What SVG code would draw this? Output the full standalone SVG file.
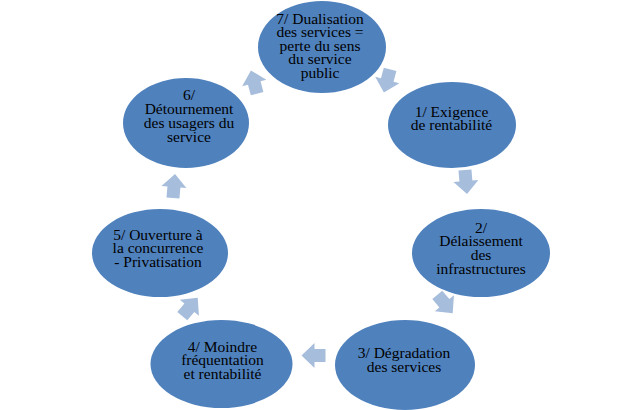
<svg xmlns="http://www.w3.org/2000/svg" xmlns:xlink="http://www.w3.org/1999/xlink" width="640" height="410" viewBox="0 0 640 410">
<style>
.node{fill:#4F81BD;}
.lbl{font-family:"Liberation Serif","DejaVu Serif",serif;font-size:15.5px;fill:#000;text-anchor:middle;}
.arr{fill:#A7BDDC;}
</style>
<defs>
<path id="arrow" d="M-12,-6.5 L-1,-6.5 L-1,-12.5 L12,0 L-1,12.5 L-1,6.5 L-12,6.5 Z"/>
</defs>
<rect width="640" height="410" fill="#fff"/>
<g id="connectors">
<use xlink:href="#arrow" class="arr" transform="translate(387,81) rotate(105)"/>
<use xlink:href="#arrow" class="arr" transform="translate(466,182) rotate(85)"/>
<use xlink:href="#arrow" class="arr" transform="translate(445,304) rotate(50)"/>
<use xlink:href="#arrow" class="arr" transform="translate(313.5,355.5) rotate(180)"/>
<use xlink:href="#arrow" class="arr" transform="translate(190,307) rotate(-50)"/>
<use xlink:href="#arrow" class="arr" transform="translate(174,186) rotate(-85)"/>
<use xlink:href="#arrow" class="arr" transform="translate(254,82) rotate(-105)"/>
</g>
<g id="node7">
<ellipse class="node" cx="322" cy="47" rx="64" ry="46"/>
<text class="lbl" x="320" y="23.5"><tspan x="320">7/ Dualisation</tspan><tspan x="320" dy="13.6">des services =</tspan><tspan x="320" dy="13.6">perte du sens</tspan><tspan x="320" dy="13.6">du service</tspan><tspan x="320" dy="13.6">public</tspan></text>
</g>
<g id="node1">
<ellipse class="node" cx="452" cy="125" rx="64" ry="43"/>
<text class="lbl" x="451.5" y="116.5"><tspan x="451.5">1/ Exigence</tspan><tspan x="451.5" dy="13.6">de rentabilité</tspan></text>
</g>
<g id="node2">
<ellipse class="node" cx="481" cy="253" rx="69" ry="44"/>
<text class="lbl" x="481" y="232.5"><tspan x="481">2/</tspan><tspan x="481" dy="13.8">Délaissement</tspan><tspan x="481" dy="13.8">des</tspan><tspan x="481" dy="13.8">infrastructures</tspan></text>
</g>
<g id="node3">
<ellipse class="node" cx="405" cy="365" rx="70" ry="45"/>
<text class="lbl" x="404" y="358"><tspan x="404">3/ Dégradation</tspan><tspan x="404" dy="13.8">des services</tspan></text>
</g>
<g id="node4">
<ellipse class="node" cx="221.5" cy="364" rx="71" ry="44"/>
<text class="lbl" x="222.5" y="351.5"><tspan x="222.5">4/ Moindre</tspan><tspan x="222.5" dy="13.9">fréquentation</tspan><tspan x="222.5" dy="13.9">et rentabilité</tspan></text>
</g>
<g id="node5">
<ellipse class="node" cx="160" cy="253" rx="68" ry="44"/>
<text class="lbl" x="158" y="239.5"><tspan x="158">5/ Ouverture à</tspan><tspan x="158" dy="13.8">la concurrence</tspan><tspan x="158" dy="13.8">- Privatisation</tspan></text>
</g>
<g id="node6">
<ellipse class="node" cx="186" cy="123" rx="63" ry="45"/>
<text class="lbl" x="189" y="100"><tspan x="189">6/</tspan><tspan x="189" dy="14">Détournement</tspan><tspan x="189" dy="14">des usagers du</tspan><tspan x="189" dy="14">service</tspan></text>
</g>
</svg>
